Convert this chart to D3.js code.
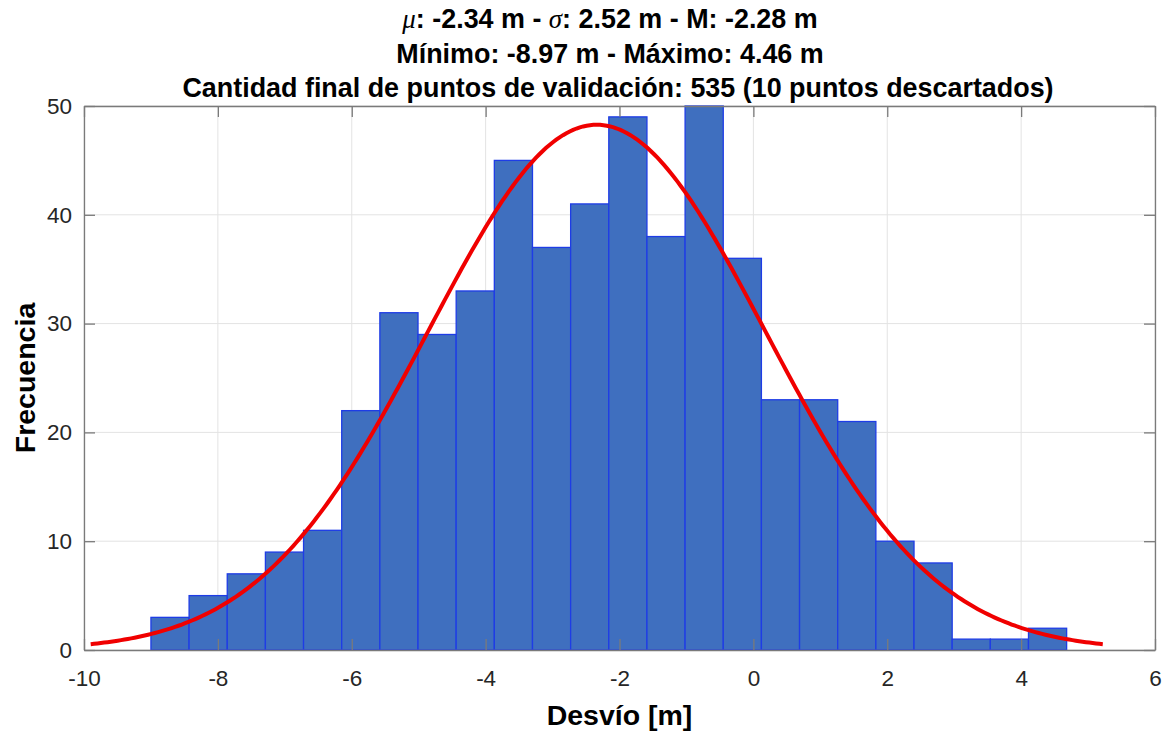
<!DOCTYPE html>
<html>
<head>
<meta charset="utf-8">
<script src="https://cdn.jsdelivr.net/npm/d3@7"></script>
<style>
  html, body { margin: 0; padding: 0; background: #fff; }
  svg { display: block; font-family: "Liberation Sans", Arial, Helvetica, sans-serif; }
</style>
</head>
<body>
<svg id="chart" width="1166" height="733"></svg>
<script>
// Histogram of validation deviations with fitted normal curve
const counts = [3, 5, 7, 9, 11, 22, 31, 29, 33, 45, 37, 41, 49, 38, 50, 36, 23, 23, 21, 10, 8, 1, 1, 2];
const binStart = -9.0;
const binWidth = 0.57;
const xTicks = [-10, -8, -6, -4, -2, 0, 2, 4, 6];
const yTicks = [0, 10, 20, 30, 40, 50];
const stats = { mean: -2.34, std: 2.52, median: -2.28, min: -8.97, max: 4.46, n: 535, discarded: 10 };

const svg = d3.select("#chart");
const plotL = 84, plotR = 1155, plotT = 106, plotB = 650;

const x = d3.scaleLinear().domain([-10, 6]).range([plotL, plotR]);
const y = d3.scaleLinear().domain([0, 50]).range([plotB, plotT]);

// grid
const grid = svg.append("g");
grid.selectAll("line.gx").data(xTicks).join("line")
  .attr("x1", d => x(d)).attr("x2", d => x(d))
  .attr("y1", plotT).attr("y2", plotB)
  .attr("stroke", "#e3e3e3").attr("stroke-width", 1);
grid.selectAll("line.gy").data(yTicks).join("line")
  .attr("x1", plotL).attr("x2", plotR)
  .attr("y1", d => y(d)).attr("y2", d => y(d))
  .attr("stroke", "#e3e3e3").attr("stroke-width", 1);

// bars
const bins = counts.map((c, i) => ({ x0: binStart + i * binWidth, x1: binStart + (i + 1) * binWidth, c }));
svg.append("g").selectAll("rect").data(bins).join("rect")
  .attr("x", d => x(d.x0))
  .attr("width", d => x(d.x1) - x(d.x0))
  .attr("y", d => y(d.c))
  .attr("height", d => y(0) - y(d.c))
  .attr("fill", "#3f6fbf")
  .attr("stroke", "#1e3ce6")
  .attr("stroke-width", 1.3);

// fitted normal density scaled to counts, drawn over mean ± 3 std
const scale = stats.n * binWidth / (stats.std * Math.sqrt(2 * Math.PI));
const curveX = d3.range(0, 301).map(i => stats.mean - 3 * stats.std + i * (6 * stats.std / 300));
const curve = curveX.map(v => [v, scale * Math.exp(-0.5 * ((v - stats.mean) / stats.std) ** 2)]);
svg.append("path")
  .datum(curve)
  .attr("fill", "none")
  .attr("stroke", "#f00000")
  .attr("stroke-width", 4)
  .attr("d", d3.line().x(d => x(d[0])).y(d => y(d[1])));

// axes
const axisColor = "#7a7a7a";
const tickLen = 11;
const fmt = d => String(d);
const xb = svg.append("g").attr("transform", `translate(0,${plotB})`)
  .call(d3.axisBottom(x).tickValues(xTicks).tickSizeInner(-tickLen).tickSizeOuter(0).tickPadding(20).tickFormat(fmt));
const xt = svg.append("g").attr("transform", `translate(0,${plotT})`)
  .call(d3.axisTop(x).tickValues(xTicks).tickSizeInner(-tickLen).tickSizeOuter(0).tickFormat(""));
const yl = svg.append("g").attr("transform", `translate(${plotL},0)`)
  .call(d3.axisLeft(y).tickValues(yTicks).tickSizeInner(-tickLen).tickSizeOuter(0).tickPadding(12).tickFormat(fmt));
const yr = svg.append("g").attr("transform", `translate(${plotR},0)`)
  .call(d3.axisRight(y).tickValues(yTicks).tickSizeInner(-tickLen).tickSizeOuter(0).tickFormat(""));
[xb, xt, yl, yr].forEach(g => {
  g.select(".domain").attr("stroke", axisColor).attr("stroke-width", 1.3);
  g.selectAll(".tick line").attr("stroke", axisColor).attr("stroke-width", 1.3);
  g.selectAll(".tick text").attr("fill", "#262626").attr("font-size", 22.5)
    .attr("font-family", "Liberation Sans, Arial, sans-serif");
});
xb.selectAll(".tick text").attr("dy", "0.71em");

// axis labels
svg.append("text")
  .attr("x", (plotL + plotR) / 2).attr("y", 725)
  .attr("text-anchor", "middle")
  .attr("font-size", 28.5).attr("font-weight", "bold").attr("fill", "#000")
  .text("Desvío [m]");
svg.append("text")
  .attr("transform", `translate(35,${(plotT + plotB) / 2}) rotate(-90)`)
  .attr("text-anchor", "middle")
  .attr("font-size", 28.5).attr("font-weight", "bold").attr("fill", "#000")
  .text("Frecuencia");

// title
const tx = 614;
const titleSize = 26.9;
const t1 = svg.append("text").attr("x", tx - 4).attr("y", 28)
  .attr("text-anchor", "middle").attr("font-size", titleSize).attr("font-weight", "bold").attr("fill", "#000");
t1.append("tspan").attr("font-family", "Liberation Serif, Times New Roman, serif").attr("font-style", "italic").attr("font-weight", "normal").text("μ");
t1.append("tspan").text(`: ${stats.mean.toFixed(2)} m - `);
t1.append("tspan").attr("font-family", "Liberation Serif, Times New Roman, serif").attr("font-style", "italic").attr("font-weight", "normal").text("σ");
t1.append("tspan").text(`: ${stats.std.toFixed(2)} m - M: ${stats.median.toFixed(2)} m`);

svg.append("text").attr("x", tx - 4).attr("y", 63)
  .attr("text-anchor", "middle").attr("font-size", titleSize).attr("font-weight", "bold").attr("fill", "#000")
  .text(`Mínimo: ${stats.min.toFixed(2)} m - Máximo: ${stats.max.toFixed(2)} m`);
svg.append("text").attr("x", tx + 4).attr("y", 97)
  .attr("text-anchor", "middle").attr("font-size", titleSize).attr("font-weight", "bold").attr("fill", "#000")
  .text(`Cantidad final de puntos de validación: ${stats.n} (${stats.discarded} puntos descartados)`);
</script>
</body>
</html>
